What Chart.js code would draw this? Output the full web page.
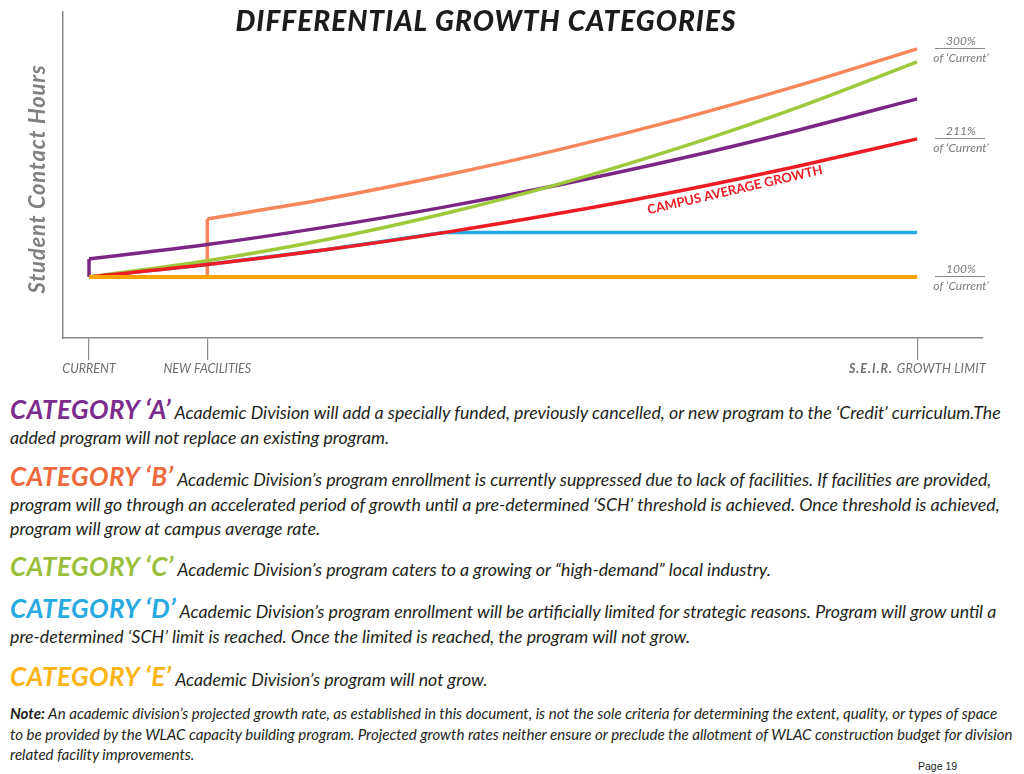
<!DOCTYPE html>
<html>
<head>
<meta charset="utf-8">
<script src="https://cdn.jsdelivr.net/npm/chart.js@4/dist/chart.umd.min.js"></script>
<style>
  html, body { margin: 0; padding: 0; background: #fff; }
  body { width: 1024px; height: 774px; position: relative; overflow: hidden; font-family: Lato, sans-serif; }
  #wrap { position: absolute; left: 0; top: 0; width: 1024px; height: 385px; }
  .cat { position: absolute; left: 10px; margin: 0; white-space: nowrap; font-style: italic; font-size: 17.75px; line-height: 24.5px; color: #231f20; }
  .head { font-style: italic; font-weight: 700; font-size: 26px; line-height: 18px; letter-spacing: 0.4px; }
  .note { position: absolute; left: 10px; top: 703px; margin: 0; white-space: nowrap; font-style: italic; font-size: 15.1px; line-height: 20.5px; color: #231f20; }
  .page { position: absolute; left: 918px; top: 760px; font-family: "Liberation Sans", Arial, sans-serif; font-size: 10.5px; color: #231f20; }
</style>
</head>
<body>
<div id="wrap"><canvas id="chartGrowth" width="1024" height="385"></canvas></div>

<p class="cat" style="top:400px"><span class="head" style="color:#7b2c8c">CATEGORY ‘A’</span> Academic Division will add a specially funded, previously cancelled, or new program to the ‘Credit’ curriculum.The<br>added program will not replace an existing program.</p>
<p class="cat" style="top:467px"><span class="head" style="color:#ee6a3c">CATEGORY ‘B’</span> Academic Division’s program enrollment is currently suppressed due to lack of facilities. If facilities are provided,<br>program will go through an accelerated period of growth until a pre-determined ‘SCH’ threshold is achieved. Once threshold is achieved,<br>program will grow at campus average rate.</p>
<p class="cat" style="top:557px"><span class="head" style="color:#9bbf3a">CATEGORY ‘C’</span> Academic Division’s program caters to a growing or “high-demand” local industry.</p>
<p class="cat" style="top:599px"><span class="head" style="color:#27a9e1">CATEGORY ‘D’</span> Academic Division’s program enrollment will be artificially limited for strategic reasons. Program will grow until a<br>pre-determined ‘SCH’ limit is reached. Once the limited is reached, the program will not grow.</p>
<p class="cat" style="top:667px"><span class="head" style="color:#fcb415">CATEGORY ‘E’</span> Academic Division’s program will not grow.</p>
<p class="note"><b>Note:</b> An academic division’s projected growth rate, as established in this document, is not the sole criteria for determining the extent, quality, or types of space<br>to be provided by the WLAC capacity building program. Projected growth rates neither ensure or preclude the allotment of WLAC construction budget for division<br>related facility improvements.</p>
<div class="page">Page 19</div>

<script>
// x: years from current (0 = current, 1 = new facilities, 7 = S.E.I.R. limit)
// y: student contact hours as % of current
const xTickValues = [0, 1, 7];
const xTickLabels = ['CURRENT', 'NEW FACILITIES', 'S.E.I.R. GROWTH LIMIT'];
const years = [0, 1, 2, 3, 4, 5, 6, 7];

const catAx = [0, 0, 1, 2, 3, 4, 5, 6, 7];
const catAy = [100, 114.5, 126.1, 140.1, 156.2, 174.6, 195.2, 218.2, 243.2];
const catBx = [0, 1, 1, 2, 3, 4, 5, 6, 7];
const catBy = [100, 100, 146.7, 162.7, 181.6, 203, 227.1, 254, 283.4];
const catCy = [100, 113.1, 130.0, 150.9, 175.5, 204.2, 236.6, 272.9];
const catDx = [0, 1, 2, 3, 7];
const catDy = [100, 110.0, 121.9, 135.7, 135.7];
const catEx = [0, 7];
const catEy = [100, 100];
const campusY = [100, 110.0, 121.9, 135.7, 151.6, 169.4, 189.3, 211];

const endLabels = ['300%', '211%', '100%'];

const pts = (xs, ys) => xs.map((x, i) => ({ x: x, y: ys[i] }));

const line = (label, data, color, width, smooth) => ({
    label, data, borderColor: color, borderWidth: width || 3.5,
    pointRadius: 0, fill: false,
    cubicInterpolationMode: smooth === false ? 'default' : 'monotone',
    tension: 0, borderCapStyle: 'butt', borderJoinStyle: 'miter'
});

// series with a vertical jump: straight part up to the jump, smooth curve after it
function stepped(label, xs, ys, color) {
    let i = 0;
    while (i < xs.length - 1 && xs[i] !== xs[i + 1]) i++;
    return [
        line(label, pts(xs.slice(i + 1), ys.slice(i + 1)), color),
        line(label + ' jump', pts(xs.slice(0, i + 2), ys.slice(0, i + 2)), color, 3.5, false)
    ];
}

const annotations = {
    id: 'annotations',
    afterDatasetsDraw(chart) {
        const { ctx, scales: { x, y } } = chart;
        ctx.save();
        ctx.textAlign = 'center';
        ctx.textBaseline = 'middle';

        // title
        ctx.fillStyle = '#1c1c1c';
        ctx.font = 'italic 900 28px Lato';
        ctx.letterSpacing = '1px';
        ctx.fillText('DIFFERENTIAL GROWTH CATEGORIES', 486, 22);

        // y axis title
        ctx.save();
        ctx.translate(38, 179);
        ctx.rotate(-Math.PI / 2);
        ctx.fillStyle = '#808080';
        ctx.font = 'italic bold 22px Lato';
        ctx.letterSpacing = '0.8px';
        ctx.fillText('Student Contact Hours', 0, 0);
        ctx.restore();
        ctx.letterSpacing = '0px';

        // campus average label along red curve
        ctx.save();
        ctx.translate(x.getPixelForValue(5.46), y.getPixelForValue(170));
        ctx.rotate(-13 * Math.PI / 180);
        ctx.fillStyle = '#ed1c24';
        ctx.font = 'bold 13px Lato';
        ctx.fillText('CAMPUS AVERAGE GROWTH', 0, 0);
        ctx.restore();

        // end of line labels
        const ends = [catBy[catBy.length - 1], campusY[campusY.length - 1], catEy[catEy.length - 1]];
        ends.forEach((v, i) => {
            const py = Math.round(y.getPixelForValue(v)) - 1;
            ctx.strokeStyle = '#8a8a8a';
            ctx.lineWidth = 1;
            ctx.beginPath();
            ctx.moveTo(935, py + 0.5);
            ctx.lineTo(985, py + 0.5);
            ctx.stroke();
            ctx.fillStyle = '#7a7a7a';
            ctx.font = 'italic 12px Lato';
            ctx.fillText(endLabels[i], 961, py - 7);
            ctx.fillText('of ‘Current’', 961, py + 10);
        });

        // x tick labels
        ctx.fillStyle = '#6d6e71';
        xTickValues.forEach((v, i) => {
            const px = x.getPixelForValue(v);
            const label = xTickLabels[i];
            if (label.startsWith('S.E.I.R.')) {
                ctx.font = 'italic bold 12.5px Lato';
                ctx.letterSpacing = '1px';
                const w1 = ctx.measureText('S.E.I.R. ').width;
                ctx.font = 'italic 12.5px Lato';
                ctx.letterSpacing = '0.3px';
                const w2 = ctx.measureText('GROWTH LIMIT').width;
                const left = 986 - w1 - w2;
                ctx.textAlign = 'left';
                ctx.font = 'italic bold 12.5px Lato';
                ctx.letterSpacing = '1px';
                ctx.fillText('S.E.I.R. ', left, 369);
                ctx.font = 'italic 12.5px Lato';
                ctx.letterSpacing = '0.3px';
                ctx.fillText('GROWTH LIMIT', left + w1, 369);
                ctx.letterSpacing = '0px';
            } else {
                ctx.textAlign = 'center';
                ctx.font = 'italic 12.5px Lato';
                ctx.fillText(label, px, 369);
            }
        });
        ctx.restore();
    }
};

const ctxGrowth = document.getElementById('chartGrowth').getContext('2d');
new Chart(ctxGrowth, {
    type: 'line',
    data: {
        datasets: [
            line('Category E', pts(catEx, catEy), '#ffa300', 4),
            line('Campus average growth', pts(years, campusY), '#ed1c24'),
            line('Category C', pts(years, catCy), '#9dc93b'),
            ...stepped('Category A', catAx, catAy, '#7b2585'),
            line('Category D', pts(catDx, catDy), '#27aae1', 3.5, false),
            ...stepped('Category B', catBx, catBy, '#f7875a')
        ]
    },
    options: {
        responsive: false,
        animation: false,
        layout: { padding: { top: 12, right: 41, left: 0, bottom: 0 } },
        plugins: { legend: { display: false }, tooltip: { enabled: false } },
        scales: {
            x: {
                type: 'linear', min: -0.22, max: 7.557,
                afterBuildTicks: axis => { axis.ticks = xTickValues.map(v => ({ value: v })); },
                afterFit: axis => { axis.height = 47; },
                grid: { drawOnChartArea: false, drawTicks: true, tickLength: 22, color: '#8a8a8a', lineWidth: 1.2 },
                border: { display: true, color: '#8a8a8a', width: 1.5 },
                ticks: { display: false }
            },
            y: {
                min: 51, max: 313,
                afterFit: axis => { axis.width = 63; },
                grid: { display: false },
                border: { display: true, color: '#8a8a8a', width: 1.5 },
                ticks: { display: false }
            }
        }
    },
    plugins: [annotations]
});
</script>
</body>
</html>
